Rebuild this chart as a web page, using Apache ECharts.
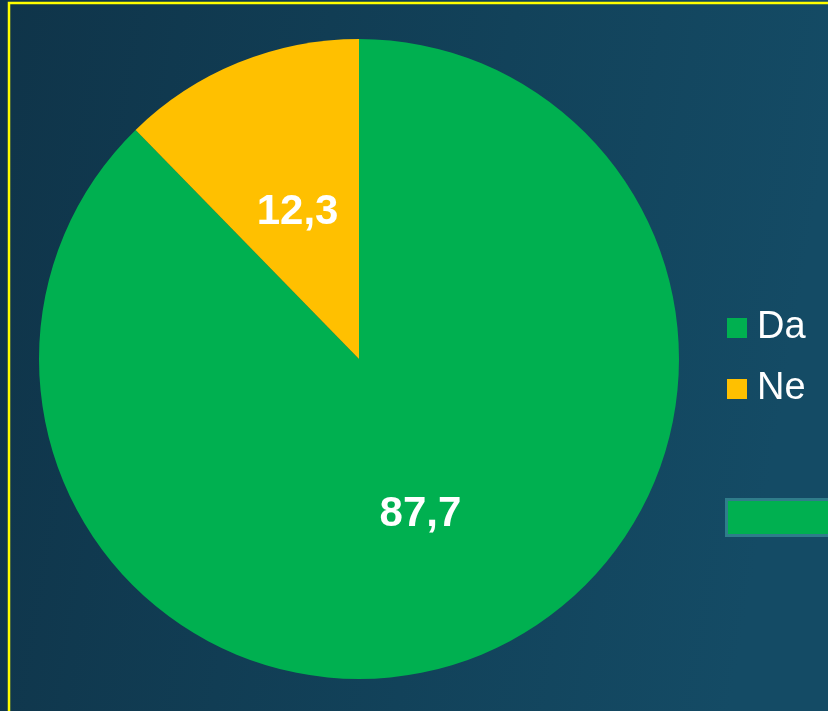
<!DOCTYPE html>
<html>
<head>
<meta charset="utf-8">
<style>
  html, body { margin: 0; padding: 0; }
  #chart { width: 828px; height: 711px; }
</style>
<script src="https://cdn.jsdelivr.net/npm/echarts@6/dist/echarts.min.js"></script>
</head>
<body>
<div id="chart"></div>
<script>
// podaci
const categories = ['Da', 'Ne']
const values = [87.7, 12.3]
const colors = ['#00b050', '#ffc000']

const chart = echarts.init(document.getElementById('chart'))

const option = {
  backgroundColor: new echarts.graphic.LinearGradient(0, 0, 1, 0.2, [
    { offset: 0, color: '#0f3449' },
    { offset: 1, color: '#144b65' }
  ]),
  textStyle: {
    fontFamily: 'Liberation Sans, Arial, sans-serif'
  },
  legend: {
    orient: 'vertical',
    left: 727,
    top: 308,
    padding: 0,
    itemWidth: 20,
    itemHeight: 20,
    itemGap: 21,
    icon: 'rect',
    textStyle: {
      color: '#ffffff',
      fontSize: 38,
      lineHeight: 40,
      padding: [0, 0, 0, 5]
    },
    data: categories
  },
  graphic: [
    {
      type: 'rect',
      shape: { x: 9, y: 3, width: 900, height: 800 },
      style: { fill: 'none', stroke: '#ffff00', lineWidth: 2.5 },
      silent: true
    },
    {
      type: 'rect',
      shape: { x: 726.5, y: 499.5, width: 200, height: 36 },
      style: { fill: '#00b050', stroke: '#2f7d8a', lineWidth: 3 },
      silent: true
    }
  ],
  series: [
    {
      type: 'pie',
      center: [359, 359],
      radius: 320,
      startAngle: 90,
      clockwise: true,
      avoidLabelOverlap: false,
      label: {
        show: true,
        position: 'inside',
        color: '#ffffff',
        fontSize: 42,
        fontWeight: 'bold',
        offset: [0, 4],
        formatter: p => String(p.value).replace('.', ',')
      },
      labelLine: { show: false },
      emphasis: { disabled: true },
      data: categories.map((name, i) => ({
        name: name,
        value: values[i],
        itemStyle: { color: colors[i] }
      }))
    }
  ]
}

chart.setOption(option)
</script>
</body>
</html>
